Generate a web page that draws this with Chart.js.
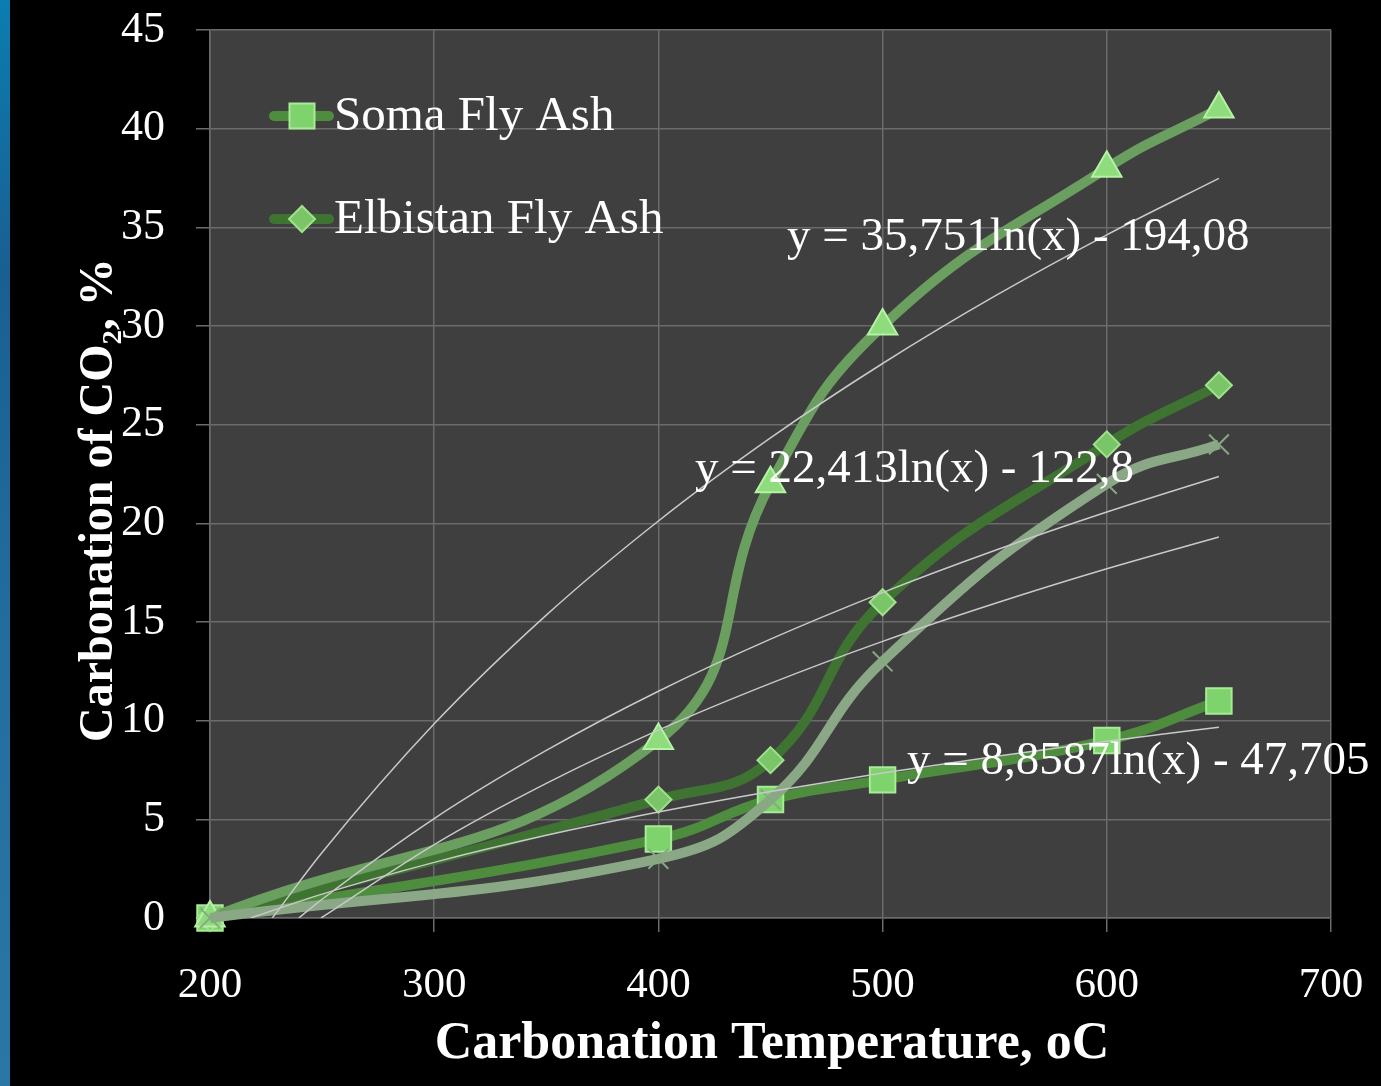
<!DOCTYPE html>
<html>
<head>
<meta charset="utf-8">
<script src="https://cdn.jsdelivr.net/npm/chart.js@4.4.1/dist/chart.umd.min.js"></script>
<style>
  html, body { margin: 0; padding: 0; }
  body {
    width: 1381px; height: 1086px; overflow: hidden;
    background: linear-gradient(to right, transparent 0 10px, #000 10px),
                linear-gradient(to bottom, #0b7db0 0%, #1a5f92 25%, #236e9e 60%, #2a76a4 100%);
  }
  #wrap { position: absolute; left: 0; top: 0; width: 1381px; height: 1086px; }
</style>
</head>
<body>
<div id="wrap"><canvas id="c" width="1381" height="1086"></canvas></div>
<script>
// ---- data ----
const temperatures = [200, 400, 450, 500, 600, 650];
const somaFlyAsh = [0, 4, 6, 7, 9, 11];
const elbistanFlyAsh = [0, 6, 8, 16, 24, 27];
const series3 = [0, 9, 22, 30, 38, 41];
const series4 = [0, 3, 6, 13, 22, 24];

// logarithmic trendlines
const trendTriX = [227.8, 250, 300, 350, 400, 450, 500, 550, 600, 650];
const trendTriY = [0, 3.32, 9.84, 15.35, 20.12, 24.33, 28.10, 31.51, 34.62, 37.48];
const trendElbX = [239.6, 250, 300, 350, 400, 450, 500, 550, 600, 650];
const trendElbY = [0, 0.95, 5.04, 8.49, 11.49, 14.13, 16.49, 18.62, 20.57, 22.37];
const trendSomaX = [218.1, 250, 300, 350, 400, 450, 500, 550, 600, 650];
const trendSomaY = [0, 1.21, 2.82, 4.19, 5.37, 6.41, 7.35, 8.19, 8.96, 9.67];
const trendS4X = [249.5, 300, 350, 400, 450, 500, 550, 600, 650];
const trendS4Y = [0, 3.72, 6.82, 9.52, 11.89, 14.02, 15.94, 17.70, 19.31];

const legendLabels = ['Soma Fly Ash', 'Elbistan Fly Ash'];
const equationLabels = ['y = 35,751ln(x) - 194,08', 'y = 22,413ln(x) - 122,8', 'y = 8,8587ln(x) - 47,705'];
const xTitle = 'Carbonation Temperature, oC';
const yTitle = 'Carbonation of CO\u2082, %';

const pts = (xs, ys) => xs.map((x, i) => ({ x: x, y: ys[i] }));

const SERIF = '"Liberation Serif", "DejaVu Serif", serif';

const plotBg = {
  id: 'plotBg',
  beforeDraw(chart) {
    const a = chart.chartArea, ctx = chart.ctx;
    ctx.save();
    ctx.fillStyle = '#3f3f3f';
    ctx.fillRect(a.left, a.top, a.right - a.left, a.bottom - a.top);
    ctx.restore();
  }
};

const overlay = {
  id: 'overlay',
  afterDraw(chart, args, opts) {
    const ctx = chart.ctx;
    const xs = chart.scales.x, ys = chart.scales.y;
    ctx.save();
    // equation labels
    ctx.fillStyle = '#ffffff';
    ctx.font = '47px ' + SERIF;
    ctx.textAlign = 'left';
    ctx.textBaseline = 'middle';
    opts.eqPos.forEach((p, i) => {
      ctx.fillText(equationLabels[i], xs.getPixelForValue(p[0]), ys.getPixelForValue(p[1]));
    });
    // legend
    const ds = chart.data.datasets;
    opts.legendRows.forEach((yv, i) => {
      const d = ds[i];
      const cy = yv;
      const lx = opts.legendX;
      ctx.strokeStyle = d.borderColor;
      ctx.lineWidth = 10;
      ctx.lineCap = 'round';
      ctx.beginPath();
      ctx.moveTo(lx, cy);
      ctx.lineTo(lx + 55, cy);
      ctx.stroke();
      const mx = lx + 28;
      ctx.fillStyle = d.pointBackgroundColor;
      ctx.strokeStyle = d.pointBorderColor;
      ctx.lineWidth = 2;
      ctx.beginPath();
      if (d.pointStyle === 'rect') {
        ctx.rect(mx - 12.5, cy - 12.5, 25, 25);
      } else {
        ctx.moveTo(mx, cy - 13); ctx.lineTo(mx + 13, cy); ctx.lineTo(mx, cy + 13); ctx.lineTo(mx - 13, cy); ctx.closePath();
      }
      ctx.fill(); ctx.stroke();
      ctx.fillStyle = '#ffffff';
      ctx.font = '49px ' + SERIF;
      ctx.textAlign = 'left';
      ctx.textBaseline = 'middle';
      ctx.fillText(legendLabels[i], lx + 60, cy + 1);
    });
    // axis titles
    ctx.font = 'bold 52px ' + SERIF;
    ctx.textAlign = 'center';
    ctx.textBaseline = 'middle';
    ctx.fillText(xTitle, opts.xTitlePos[0], opts.xTitlePos[1]);
    ctx.translate(opts.yTitlePos[0], opts.yTitlePos[1]);
    ctx.rotate(-Math.PI / 2);
    ctx.font = 'bold 48px ' + SERIF;
    ctx.fillText(yTitle, 0, 0);
    ctx.restore();
  }
};

const trendStyle = {
  borderColor: '#c9c9c9', borderWidth: 1.5, pointRadius: 0, showLine: true,
  cubicInterpolationMode: 'monotone', order: 0, fill: false
};

new Chart(document.getElementById('c'), {
  type: 'scatter',
  data: {
    datasets: [
      { label: legendLabels[0], data: pts(temperatures, somaFlyAsh), showLine: true, tension: 0.45, clip: false,
        borderColor: '#4e8c3e', borderWidth: 10, pointStyle: 'rect', pointRadius: 18,
        pointBackgroundColor: '#7fd36c', pointBorderColor: '#a8eb96', pointBorderWidth: 2, order: 4 },
      { label: legendLabels[1], data: pts(temperatures, elbistanFlyAsh), showLine: true, tension: 0.45, clip: false,
        borderColor: '#3e7332', borderWidth: 10, pointStyle: 'rectRot', pointRadius: 13,
        pointBackgroundColor: '#79c567', pointBorderColor: '#a0e18e', pointBorderWidth: 2, order: 3 },
      { label: 'series3', data: pts(temperatures, series3), showLine: true, tension: 0.45, clip: false,
        borderColor: '#6a9f60', borderWidth: 10, pointStyle: 'triangle', pointRadius: 17,
        pointBackgroundColor: '#8edc7b', pointBorderColor: '#b6f1a6', pointBorderWidth: 2, order: 2 },
      { label: 'series4', data: pts(temperatures, series4), showLine: true, tension: 0.45, clip: false,
        borderColor: '#8aa886', borderWidth: 10, pointStyle: 'crossRot', pointRadius: 14,
        pointBackgroundColor: '#8aa886', pointBorderColor: '#87a982', pointBorderWidth: 2, order: 1 },
      Object.assign({ label: 'trend3', data: pts(trendTriX, trendTriY) }, trendStyle),
      Object.assign({ label: 'trendElb', data: pts(trendElbX, trendElbY) }, trendStyle),
      Object.assign({ label: 'trendS4', data: pts(trendS4X, trendS4Y) }, trendStyle),
      Object.assign({ label: 'trendSoma', data: pts(trendSomaX, trendSomaY) }, trendStyle)
    ]
  },
  options: {
    responsive: false,
    animation: false,
    devicePixelRatio: 1,
    layout: { padding: { top: 30, right: 50, left: 0, bottom: 0 } },
    scales: {
      x: {
        type: 'linear', min: 200, max: 700,
        ticks: { stepSize: 100, color: '#ffffff', font: { family: SERIF, size: 43 }, padding: 28, maxRotation: 0 },
        grid: { color: '#6b6b6b', lineWidth: 1.5, tickLength: 14, tickColor: '#6b6b6b' },
        border: { color: '#6b6b6b', width: 1.5 },
        afterFit(s) { s.height = 168; s.paddingLeft = 0; s.paddingRight = 0; }
      },
      y: {
        type: 'linear', min: 0, max: 45,
        ticks: { stepSize: 5, color: '#ffffff', font: { family: SERIF, size: 44 }, padding: 31 },
        grid: { color: '#6b6b6b', lineWidth: 1.5, tickLength: 14, tickColor: '#6b6b6b',
                borderDash: [42.3, 2.5], borderDashOffset: 43.55 },
        border: { color: '#6b6b6b', width: 1.5 },
        afterFit(s) { s.width = 210; s.paddingTop = 0; s.paddingBottom = 0; }
      }
    },
    plugins: {
      legend: { display: false },
      tooltip: { enabled: false },
      overlay: {
        eqPos: [[457.4, 34.5], [416.3, 22.7], [510.9, 7.9]],
        legendRows: [116, 219],
        legendX: 274,
        xTitlePos: [772, 1045],
        yTitlePos: [100, 500]
      }
    }
  },
  plugins: [plotBg, overlay]
});
</script>
</body>
</html>
